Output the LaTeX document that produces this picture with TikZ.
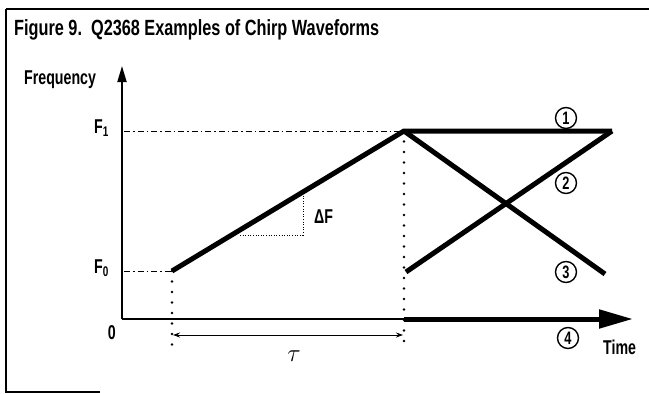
\documentclass[tikz,border=0pt]{standalone}
\usepackage{fontspec}
\setmainfont{Liberation Sans}
\newfontfamily\cond[FakeStretch=0.71]{Liberation Sans}
\newfontfamily\condtitle[FakeStretch=0.74]{Liberation Sans}
\usetikzlibrary{arrows.meta}
\tikzset{
  wave/.style={line width=5pt},
  axisline/.style={line width=1.8pt},
  dotline/.style={line width=2.8pt, line cap=round, dash pattern=on 0pt off 10.5pt},
  finedot/.style={line width=0.9pt, dash pattern=on 1pt off 1.6pt},
  dashdot/.style={line width=1pt, dash pattern=on 6pt off 3pt on 1.5pt off 3pt},
  lbl/.style={font=\cond\bfseries\fontsize{20}{22}\selectfont, inner sep=0pt},
  circnum/.style={circle, draw, line width=1.4pt, inner sep=0pt, minimum size=21pt,
                  font=\cond\bfseries\fontsize{18}{20}\selectfont},
}
\begin{document}
\begin{tikzpicture}[x=1pt,y=-1pt]
\useasboundingbox (0,0) rectangle (649,394);
% frame
\coordinate (fTL) at (6,9);
\coordinate (fTR) at (649,9);
\coordinate (fBL) at (6,392);
\coordinate (fBR) at (100,392);
\draw[line width=1.8pt] (fTR) -- (fTL);
\draw[line width=1.2pt] (fTL) -- (fBL) -- (fBR);
% title
\node[anchor=base west, inner sep=0pt, font=\condtitle\bfseries\fontsize{22}{24}\selectfont] (title) at (14,35) {Figure 9.\ \ Q2368 Examples of Chirp Waveforms};
% axes
\coordinate (O) at (122,319);
\coordinate (ytip) at (122,66);
\coordinate (T0) at (404,319);
\coordinate (xtip) at (633,319);
\draw[axisline, -{Triangle[length=16pt,width=9pt]}] (O) -- (ytip);
\draw[axisline] (O) -- (T0);
\draw[wave, -{Triangle[length=34pt,width=18pt]}] (T0) -- (xtip);
% labels on axes
\node[lbl, anchor=base west] (freq) at (24,84) {Frequency};
\node[lbl, anchor=base west] (time) at (603,354) {Time};
\node[lbl, anchor=base east] (zero) at (116,339) {0};
\node[lbl, anchor=base east] (F1) at (109,133) {F\textsubscript{1}};
\node[lbl, anchor=base east] (F0) at (109,273) {F\textsubscript{0}};
% key points
\coordinate (A) at (172,271);
\coordinate (P) at (404,131);
\coordinate (E1) at (612,131);
\coordinate (S2) at (406,272);
\coordinate (E3) at (605,274);
\coordinate (yF1) at (124,131);
\coordinate (yF0) at (124,271);
% reference lines
\draw[dashdot] (yF1) -- (P);
\draw[dashdot] (yF0) -- (A);
\coordinate (Ad) at (172,354);
\coordinate (Pd) at (404,350);
\draw[dotline] (A) -- (Ad);
\draw[dotline] (P) -- (Pd);
% waveforms
\draw[wave, line join=miter] (A) -- (P) -- (E1);
\draw[wave] (S2) -- (E1);
\draw[wave] (P) -- (E3);
% delta F
\coordinate (d1) at (240,235);
\coordinate (d2) at (303,235);
\coordinate (d3) at (303,196);
\draw[finedot] (d1) -- (d2) -- (d3);
\node[lbl, anchor=west] (dF) at (314,217) {ΔF};
% tau
\coordinate (tA) at (173,335);
\coordinate (tB) at (403,335);
\draw[line width=0.9pt, {Stealth[length=7pt,width=5pt]}-{Stealth[length=7pt,width=5pt]}] (tA) -- (tB);
\node[font=\fontsize{26}{28}\selectfont, inner sep=0pt] (tau) at (294,356) {$\tau$};
% circled numbers
\node[circnum] (c1) at (566,118) {1};
\node[circnum] (c2) at (566,183) {2};
\node[circnum] (c3) at (566,272) {3};
\node[circnum] (c4) at (568,338) {4};
\end{tikzpicture}
\end{document}
